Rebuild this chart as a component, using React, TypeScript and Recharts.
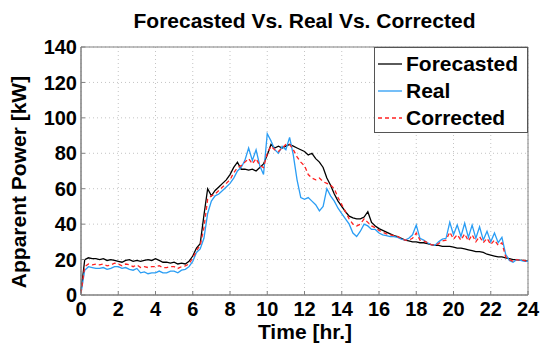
import { LineChart, Line, XAxis, YAxis, CartesianGrid, Legend, ReferenceArea, Label } from 'recharts';

// time axis, one point every 0.2 h
const HOURS = Array.from({ length: 121 }, (_, i) => +(i * 0.2).toFixed(1));
const X_TICKS = [0, 2, 4, 6, 8, 10, 12, 14, 16, 18, 20, 22, 24];
const Y_TICKS = [0, 20, 40, 60, 80, 100, 120, 140];

const FORECASTED = [
    2, 20, 21, 20.5, 20.5,
    20, 20.5, 19.5, 20, 19.5,
    19, 18.5, 19.5, 20, 19,
    19.5, 19, 19.5, 20, 19.5,
    20.5, 19.5, 18.5, 18.5, 18,
    18.5, 17.5, 18, 17.5, 19,
    22, 26.5, 29, 45, 60,
    56, 59, 61, 63, 65,
    68, 72, 75, 71, 71,
    70.5, 71, 70, 72, 74,
    79, 85, 83, 84, 83,
    84, 85, 84, 83, 82,
    81, 79, 80, 77, 75,
    72, 66, 62, 57, 53,
    50, 47, 44.5, 43.5, 43,
    43, 44, 47, 41, 39,
    37.5, 36.5, 35.5, 34.5, 33.5,
    33, 32, 31, 30.5, 30,
    30, 29.5, 29.5, 29, 28.5,
    28, 28, 27.5, 27.5, 27.5,
    27, 26.5, 26.5, 26, 25.5,
    25, 24.5, 24.5, 24, 23,
    22.5, 22, 21.5, 21.5, 21,
    20.5, 20, 20, 19.5, 19.5,
    19,
];

const REAL = [
    1, 14, 16, 15.5, 15,
    15, 15.5, 14.5, 15, 16,
    16, 15, 15.5, 14.5, 14,
    15, 12.5, 13, 12, 12.5,
    12.5, 13.5, 12.5, 12.5, 13.5,
    13.5, 12.5, 14, 14.5, 16,
    19, 24, 26, 32, 46,
    53, 56, 57, 59, 61,
    63, 66, 70, 72, 76,
    83, 76, 82, 73, 68,
    91, 87, 82, 80, 84,
    82, 89, 79, 65, 55,
    54, 55, 53, 51, 47.5,
    50, 60, 56, 53, 49,
    46, 43, 40, 35, 33,
    36, 40, 39, 37, 37,
    35, 34, 33.5, 33, 33,
    32.5, 31.5, 31, 32, 34,
    39.5, 32, 31, 29.5, 28.5,
    28, 30, 31.5, 32, 41,
    34, 39.5, 33, 40.5, 32.5,
    39.5, 32, 38.5, 31, 36,
    30, 35, 29.5, 32.5, 23,
    19.5, 18.5, 20, 19.5, 19,
    19,
];

const CORRECTED = [
    1, 16, 17.5, 17, 17.5,
    17, 17.5, 16.5, 17, 18,
    17.5, 16.5, 17.5, 17, 16,
    17, 15.5, 16, 15.5, 16,
    16, 16.5, 15.5, 15.5, 16,
    16, 15, 16, 16.5, 17.5,
    21, 25, 28, 38, 54,
    56, 57, 59, 61, 63,
    65, 69, 72, 73, 75,
    77, 74, 77, 73, 72,
    80, 84, 82, 81, 83,
    85, 85, 82, 78, 75,
    73, 68, 66, 65, 66,
    64, 63, 62, 60, 55,
    51, 47, 43, 40, 39,
    40, 43, 41, 39, 38,
    36.5, 35.5, 34.5, 34, 33.5,
    33, 32, 31, 31, 32,
    35, 31, 30.5, 29.5, 28.5,
    28, 29, 30.5, 31, 35.5,
    31.5, 34, 31, 34.5, 30.5,
    34, 30, 33, 29.5, 32,
    28.5, 31, 28, 29.5, 21.5,
    20, 19, 20, 19.5, 19.5,
    18.5,
];

const SERIES = [
    { key: 'forecasted', name: 'Forecasted', color: '#000000', dash: undefined },
    { key: 'real', name: 'Real', color: '#2a9df4', dash: undefined },
    { key: 'corrected', name: 'Corrected', color: '#ff2222', dash: '4 3' },
];

const FONT = '"Liberation Sans", Arial, sans-serif';

const data = HOURS.map((t, i) => ({ t, forecasted: FORECASTED[i], real: REAL[i], corrected: CORRECTED[i] }));

const tickStyle = { fontSize: 20, fontWeight: 700, fill: '#000', fontFamily: FONT };
const boxLine = { stroke: '#808080' };

function LegendBox() {
    return (
        <div style={{ width: 154, height: 86, boxSizing: 'border-box', border: '1px solid #555', background: '#fff', paddingTop: 2, fontFamily: FONT }}>
            {SERIES.map((s) => (
                <div key={s.key} style={{ display: 'flex', alignItems: 'center', height: 27 }}>
                    <svg width={28} height={10} style={{ marginLeft: 3 }}>
                        <line x1={0} y1={5} x2={24} y2={5} stroke={s.color} strokeWidth={1.3} strokeDasharray={s.dash} />
                    </svg>
                    <span style={{ fontSize: 21, fontWeight: 700, color: '#000', lineHeight: '27px' }}>{s.name}</span>
                </div>
            ))}
        </div>
    );
}

export default function App() {
    return (
        <div style={{ position: 'absolute', left: 0, top: 0, width: 543, height: 347, background: '#fff' }}>
            <div style={{ position: 'absolute', left: 81, top: 8, width: 447, textAlign: 'center', fontFamily: FONT, fontSize: 21, fontWeight: 700, color: '#000', lineHeight: '26px' }}>
                Forecasted Vs. Real Vs. Corrected
            </div>
            <LineChart width={543} height={347} data={data} margin={{ top: 47, right: 15, bottom: 0, left: 0 }}>
                <CartesianGrid stroke="#c4c4c4" strokeDasharray="1 3" />
                {/* inward ticks like matlab */}
                <XAxis dataKey="t" type="number" domain={[0, 24]} ticks={X_TICKS} interval={0} height={52}
                    tick={tickStyle} tickLine={boxLine} tickSize={-4} tickMargin={11} axisLine={boxLine}>
                    <Label content={() => (
                        <text x={305} y={331} textAnchor="middle" dominantBaseline="central" fontFamily={FONT} fontSize={21} fontWeight={700} fill="#000">Time [hr.]</text>
                    )} />
                </XAxis>
                <XAxis xAxisId="top" orientation="top" dataKey="t" type="number" domain={[0, 24]} ticks={X_TICKS} interval={0}
                    height={0} tick={false} tickLine={boxLine} tickSize={-4} axisLine={boxLine} />
                <YAxis type="number" domain={[0, 140]} ticks={Y_TICKS} interval={0} width={81}
                    tick={tickStyle} tickLine={boxLine} tickSize={-4} tickMargin={8} axisLine={boxLine}>
                    <Label content={() => (
                        <text x={18} y={182} transform="rotate(-90 18 182)" textAnchor="middle" dominantBaseline="central" fontFamily={FONT} fontSize={21} fontWeight={700} fill="#000">Apparent Power [kW]</text>
                    )} />
                </YAxis>
                <YAxis yAxisId="right" orientation="right" type="number" domain={[0, 140]} ticks={Y_TICKS} interval={0}
                    width={0} tick={false} tickLine={boxLine} tickSize={-4} axisLine={boxLine} />
                <ReferenceArea x1={0} x2={24} y1={0} y2={140} fill="none" stroke="#808080" strokeWidth={1} ifOverflow="visible" />
                {SERIES.map((s) => (
                    <Line key={s.key} type="linear" dataKey={s.key} name={s.name} stroke={s.color} strokeWidth={1.3}
                        strokeDasharray={s.dash} dot={false} activeDot={false} isAnimationActive={false} />
                ))}
                <Legend layout="vertical" align="center" verticalAlign="middle" content={() => <LegendBox />}
                    wrapperStyle={{ position: 'absolute', left: 374, top: 47, width: 154, height: 86 }} />
            </LineChart>
        </div>
    );
}
